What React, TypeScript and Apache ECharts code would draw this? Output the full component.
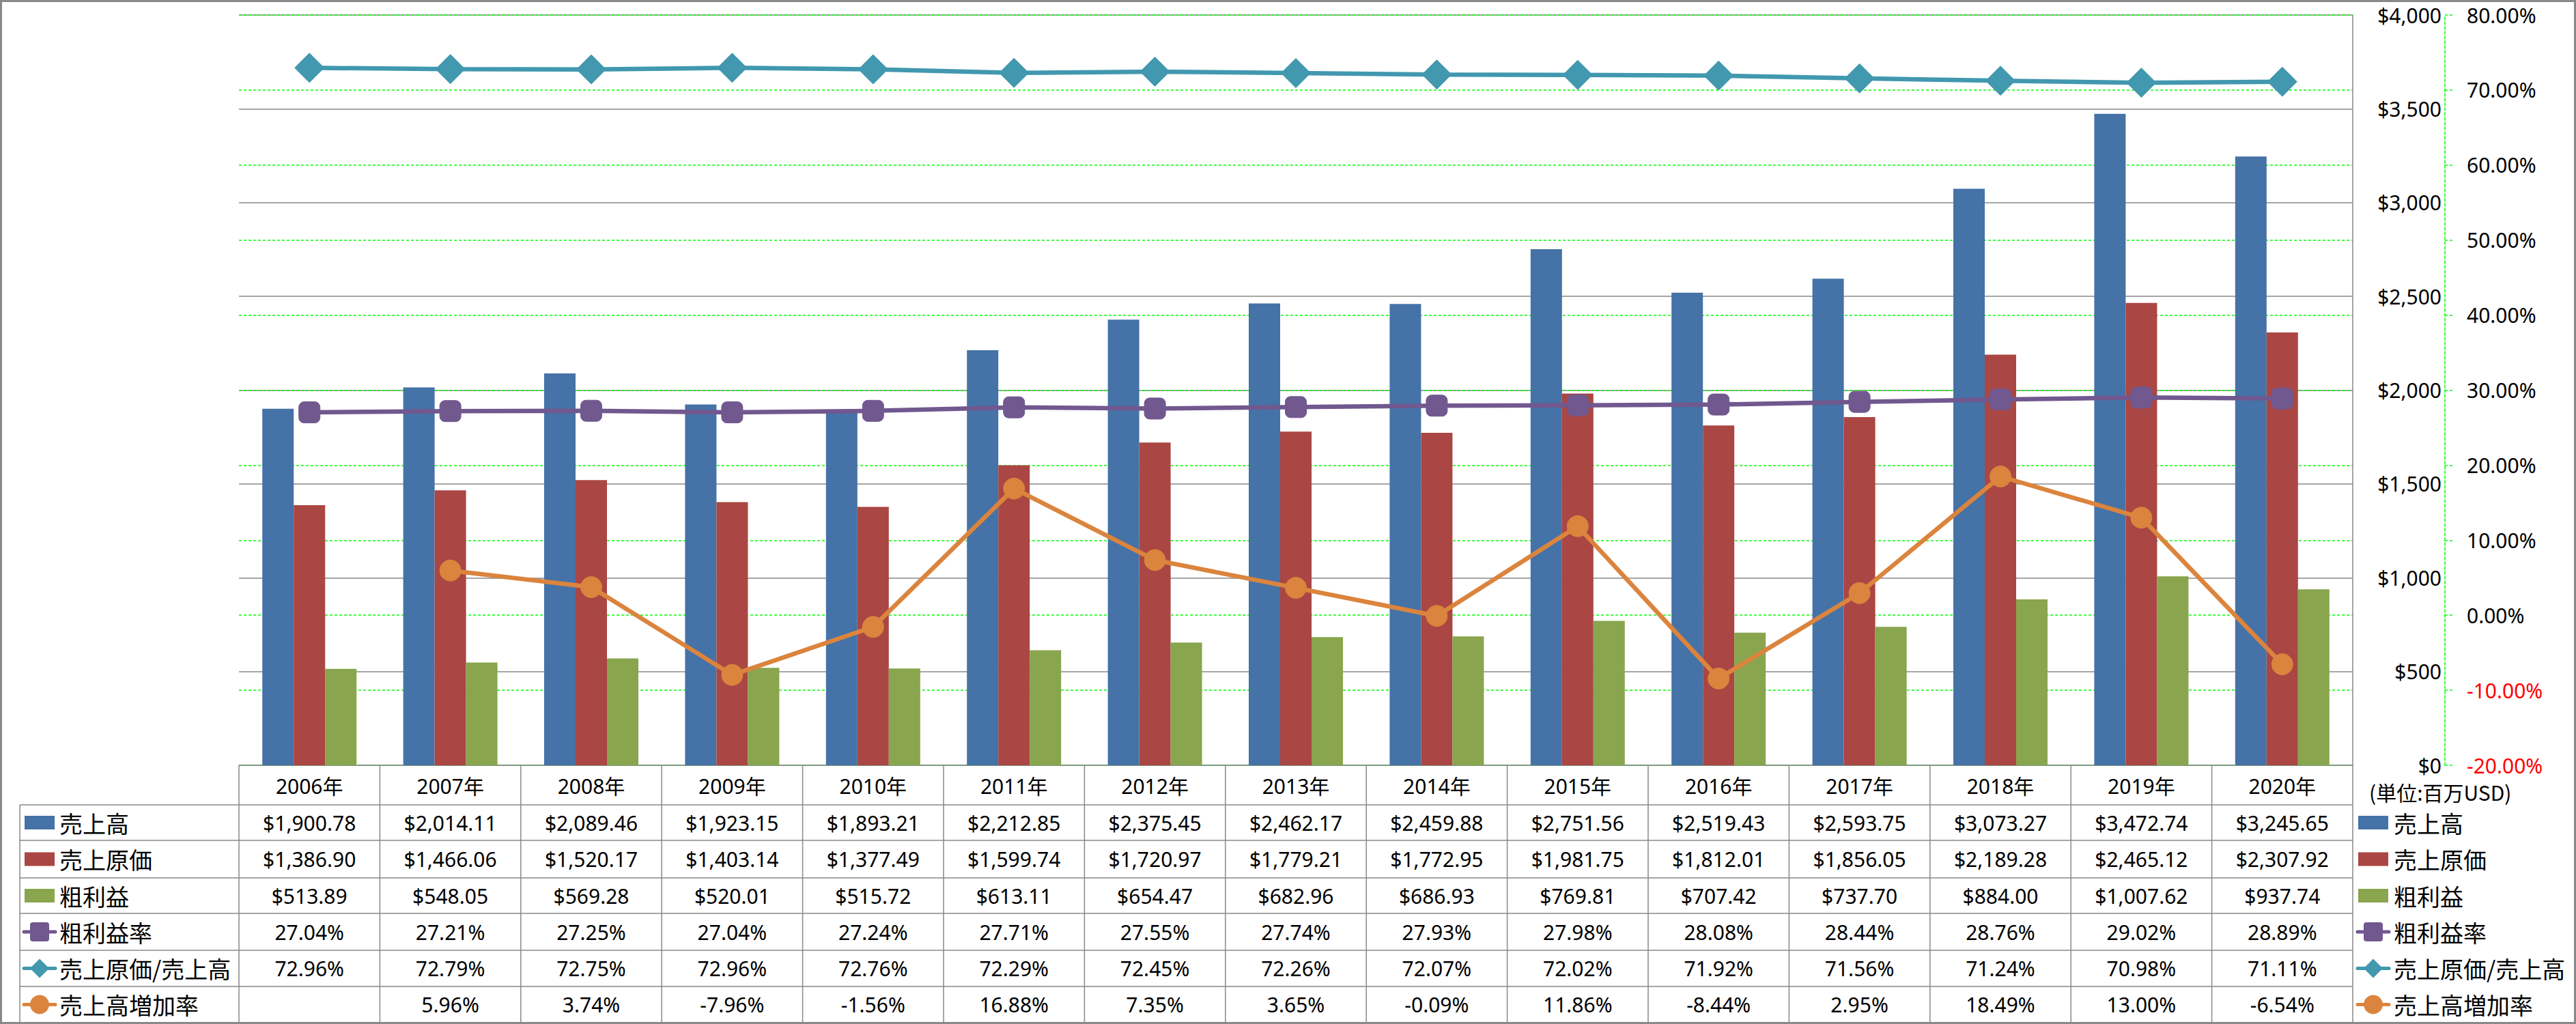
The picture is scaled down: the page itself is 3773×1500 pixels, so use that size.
import React, { useEffect, useRef } from "react";
import * as echarts from "echarts";

// ---------- data ----------
const years = ["2006年", "2007年", "2008年", "2009年", "2010年", "2011年", "2012年", "2013年", "2014年", "2015年", "2016年", "2017年", "2018年", "2019年", "2020年"];
const sales = [1900.78, 2014.11, 2089.46, 1923.15, 1893.21, 2212.85, 2375.45, 2462.17, 2459.88, 2751.56, 2519.43, 2593.75, 3073.27, 3472.74, 3245.65];
const costOfSales = [1386.90, 1466.06, 1520.17, 1403.14, 1377.49, 1599.74, 1720.97, 1779.21, 1772.95, 1981.75, 1812.01, 1856.05, 2189.28, 2465.12, 2307.92];
const grossProfit = [513.89, 548.05, 569.28, 520.01, 515.72, 613.11, 654.47, 682.96, 686.93, 769.81, 707.42, 737.70, 884.00, 1007.62, 937.74];
const grossMargin = [27.04, 27.21, 27.25, 27.04, 27.24, 27.71, 27.55, 27.74, 27.93, 27.98, 28.08, 28.44, 28.76, 29.02, 28.89];
const costRatio = [72.96, 72.79, 72.75, 72.96, 72.76, 72.29, 72.45, 72.26, 72.07, 72.02, 71.92, 71.56, 71.24, 70.98, 71.11];
const salesGrowth: (number | null)[] = [null, 5.96, 3.74, -7.96, -1.56, 16.88, 7.35, 3.65, -0.09, 11.86, -8.44, 2.95, 18.49, 13.00, -6.54];
const unitLabel = "(単位:百万USD)";

const seriesNames = ["売上高", "売上原価", "粗利益", "粗利益率", "売上原価/売上高", "売上高増加率"];
const colors = ["#4572A7", "#AA4643", "#89A54E", "#71588F", "#4198AF", "#DB843D"];
const markerKinds = ["bar", "bar", "bar", "roundRect", "diamond", "circle"];

const fmtDollar = (v: number | null) =>
  v == null ? "" : "$" + v.toLocaleString("en-US", { minimumFractionDigits: 2, maximumFractionDigits: 2 });
const fmtPct = (v: number | null) => (v == null ? "" : v.toFixed(2) + "%");

const tableRows = [
  { values: sales, fmt: fmtDollar },
  { values: costOfSales, fmt: fmtDollar },
  { values: grossProfit, fmt: fmtDollar },
  { values: grossMargin, fmt: fmtPct },
  { values: costRatio, fmt: fmtPct },
  { values: salesGrowth, fmt: fmtPct },
];

// ---------- layout ----------
const W = 3773;
const H = 1500;
const GL = 350;
const GR = 3446;
const GT = 22;
const GB = 1121;
const rowY = [1121, 1179, 1231, 1286, 1338, 1392, 1445, 1498];
const tableLeft = 29;
const gridColor = "#898989";
const green = "#00ff00";
const latin = "Noto Sans, Noto Sans CJK JP";
const cjk = "Noto Sans CJK JP";

function textEl(text: string, x: number, y: number, size: number, family: string, align: string, color = "#000") {
  return {
    type: "text",
    silent: true,
    z: 20,
    style: {
      text,
      x,
      y,
      fill: color,
      fontSize: size,
      fontFamily: family,
      align,
      textAlign: align,
      verticalAlign: "middle",
      textVerticalAlign: "middle",
    },
  };
}

function lineEl(x1: number, y1: number, x2: number, y2: number, color = gridColor, w = 1.5) {
  return {
    type: "line",
    silent: true,
    z: 15,
    shape: { x1, y1, x2, y2 },
    style: { stroke: color, lineWidth: w },
  };
}

function iconEls(kind: string, color: string, cx: number, cy: number) {
  const els: any[] = [];
  if (kind === "bar") {
    els.push({ type: "rect", silent: true, z: 20, shape: { x: cx - 22, y: cy - 10, width: 44, height: 20 }, style: { fill: color } });
    return els;
  }
  els.push({ type: "line", silent: true, z: 20, shape: { x1: cx - 23, y1: cy, x2: cx + 23, y2: cy }, style: { stroke: color, lineWidth: 5, lineCap: "round" } });
  if (kind === "roundRect") {
    els.push({ type: "rect", silent: true, z: 21, shape: { x: cx - 14, y: cy - 14, width: 28, height: 28, r: 4 }, style: { fill: color } });
  } else if (kind === "diamond") {
    els.push({ type: "polygon", silent: true, z: 21, shape: { points: [[cx, cy - 14], [cx + 14, cy], [cx, cy + 14], [cx - 14, cy]] }, style: { fill: color } });
  } else {
    els.push({ type: "circle", silent: true, z: 21, shape: { cx, cy, r: 14 }, style: { fill: color } });
  }
  return els;
}

export default function App() {
  const ref = useRef<HTMLDivElement>(null);

  useEffect(() => {
    document.body.style.margin = "0";
    const chart = echarts.init(ref.current!, null, { renderer: "svg" });

    const lineSeries = (idx: number, data: (number | null)[], symbol: string, size: number) => ({
      type: "line",
      name: seriesNames[idx],
      data,
      yAxisIndex: 1,
      symbol,
      symbolSize: size,
      z: 5,
      lineStyle: { color: colors[idx], width: 6.5 },
      itemStyle: { color: colors[idx], borderColor: colors[idx], borderWidth: 1 },
    });

    const option: any = {
      animation: false,
      backgroundColor: "#ffffff",
      grid: { left: GL, right: W - GR, top: GT, bottom: H - GB, containLabel: false },
      xAxis: {
        type: "category",
        data: years,
        boundaryGap: true,
        axisLine: { show: true, lineStyle: { color: gridColor, width: 1.5 } },
        axisTick: { show: false },
        axisLabel: { show: false },
        splitLine: { show: false },
      },
      yAxis: [
        {
          type: "value",
          min: 0,
          max: 4000,
          interval: 500,
          position: "right",
          offset: 135,
          axisLine: { show: false },
          axisTick: { show: false },
          axisLabel: {
            inside: true,
            margin: 5,
            fontFamily: "Noto Sans",
            fontSize: 30,
            color: "#000",
            formatter: (v: number) => "$" + v.toLocaleString("en-US"),
          },
          splitLine: { show: true, lineStyle: { color: gridColor, width: 1.5 } },
        },
        {
          type: "value",
          min: -20,
          max: 80,
          interval: 10,
          position: "right",
          offset: 135,
          axisLine: { show: true, lineStyle: { color: green, width: 1.5, type: [4, 3] } },
          axisTick: { show: true, length: 11, lineStyle: { color: green, width: 1.5, type: [4, 3] } },
          axisLabel: {
            margin: 32,
            fontFamily: "Noto Sans",
            fontSize: 30,
            color: (v: any) => (Number(v) < 0 ? "#ff0000" : "#000000"),
            formatter: (v: number) => v.toFixed(2) + "%",
          },
          splitLine: { show: true, lineStyle: { color: green, width: 1.5, type: [4, 3] } },
        },
      ],
      series: [
        { type: "bar", name: seriesNames[0], data: sales, yAxisIndex: 0, barWidth: 46, barGap: "0%", itemStyle: { color: colors[0] } },
        { type: "bar", name: seriesNames[1], data: costOfSales, yAxisIndex: 0, barWidth: 46, barGap: "0%", itemStyle: { color: colors[1] } },
        { type: "bar", name: seriesNames[2], data: grossProfit, yAxisIndex: 0, barWidth: 46, barGap: "0%", itemStyle: { color: colors[2] } },
        lineSeries(3, grossMargin, "roundRect", 31),
        lineSeries(4, costRatio, "diamond", 43),
        lineSeries(5, salesGrowth, "circle", 31),
      ],
    };
    chart.setOption(option);

    // ---------- data table + legend drawn from the category scale ----------
    const centers = years.map((_, i) => chart.convertToPixel({ xAxisIndex: 0 }, i) as number);
    const band = years.length > 1 ? centers[1] - centers[0] : GR - GL;
    const els: any[] = [];

    // frame
    els.push({ type: "rect", silent: true, z: 30, shape: { x: 1.5, y: 1.5, width: W - 3, height: H - 3 }, style: { fill: "none", stroke: gridColor, lineWidth: 3 } });

    // horizontal table lines
    for (let j = 1; j < rowY.length; j++) els.push(lineEl(tableLeft, rowY[j], GR, rowY[j]));
    // vertical table lines
    els.push(lineEl(tableLeft, rowY[1], tableLeft, rowY[rowY.length - 1]));
    for (let k = 0; k < years.length; k++) {
      const x = centers[k] - band / 2;
      els.push(lineEl(x, rowY[0], x, rowY[rowY.length - 1]));
    }
    els.push(lineEl(GR, GT, GR, rowY[rowY.length - 1]));

    // header
    years.forEach((y, i) => els.push(textEl(y, centers[i], (rowY[0] + rowY[1]) / 2 + 1, 30, latin, "center")));

    // rows
    tableRows.forEach((row, r) => {
      const cy = (rowY[r + 1] + rowY[r + 2]) / 2;
      row.values.forEach((v, i) => els.push(textEl(row.fmt(v), centers[i], cy, 30, "Noto Sans", "center")));
      // left labels
      iconEls(markerKinds[r], colors[r], 58, cy).forEach((e) => els.push(e));
      els.push(textEl(seriesNames[r], 87, cy, 34, cjk, "left"));
      // right legend
      iconEls(markerKinds[r], colors[r], 3476, cy).forEach((e) => els.push(e));
      els.push(textEl(seriesNames[r], 3506, cy, 34, cjk, "left"));
    });

    els.push(textEl(unitLabel, 3470, 1160, 30, cjk, "left"));

    chart.setOption({ graphic: { elements: els } });

    return () => chart.dispose();
  }, []);

  return <div ref={ref} style={{ width: W, height: H }} />;
}
